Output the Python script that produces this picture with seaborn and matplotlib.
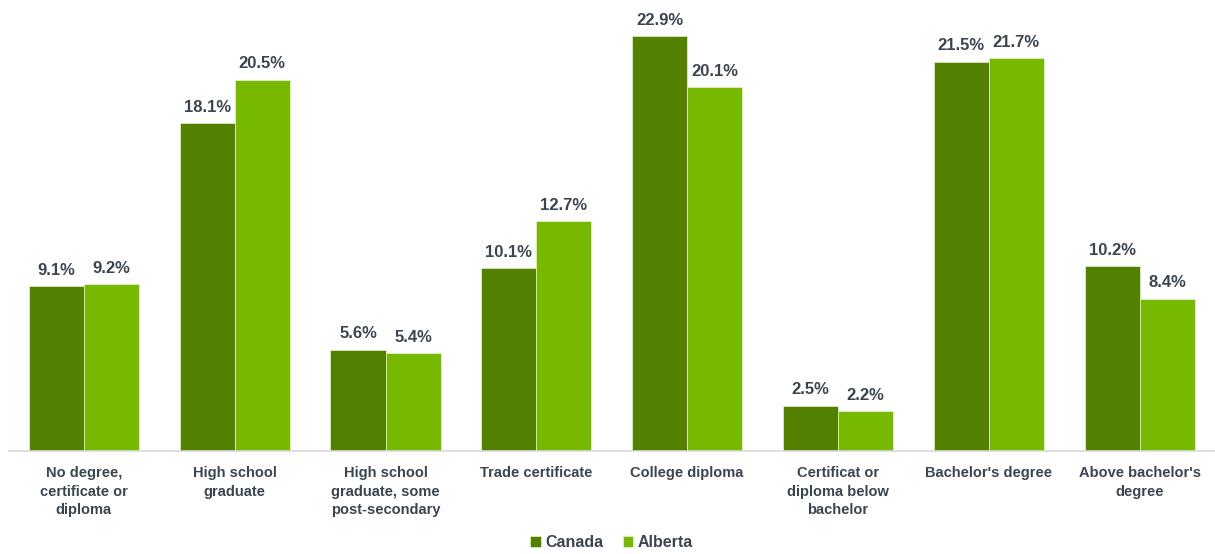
import matplotlib
matplotlib.use("Agg")
import matplotlib.pyplot as plt
import seaborn as sns
import pandas as pd

categories = [
    "No degree,\ncertificate or\ndiploma",
    "High school\ngraduate",
    "High school\ngraduate, some\npost-secondary",
    "Trade certificate",
    "College diploma",
    "Certificat or\ndiploma below\nbachelor",
    "Bachelor's degree",
    "Above bachelor's\ndegree",
]
canada = [9.1, 18.1, 5.6, 10.1, 22.9, 2.5, 21.5, 10.2]
alberta = [9.2, 20.5, 5.4, 12.7, 20.1, 2.2, 21.7, 8.4]
series = ["Canada", "Alberta"]
colors = ["#548000", "#77B900"]
text_color = "#3B4550"

df = pd.DataFrame({
    "category": categories * 2,
    "value": canada + alberta,
    "region": ["Canada"] * len(categories) + ["Alberta"] * len(categories),
})

sns.set_theme(style="white")
plt.rcParams["font.family"] = ["Liberation Sans", "DejaVu Sans"]
plt.rcParams["font.weight"] = "bold"

fig = plt.figure(figsize=(12.15, 5.54), dpi=100)
ax = fig.add_axes([0.007, 0.186, 0.993, 0.814])

sns.barplot(data=df, x="category", y="value", hue="region", order=categories,
            hue_order=series, palette=colors, width=0.73, saturation=1,
            edgecolor="#E8F2D8", linewidth=0.5, ax=ax)

for cont in ax.containers:
    ax.bar_label(cont, fmt="%.1f%%", padding=6, fontsize=12,
                 fontweight="bold", color=text_color)

ax.set_ylim(0, 24.9)
ax.set_xlim(-0.5, len(categories) - 0.5)
ax.set_xlabel("")
ax.set_ylabel("")
ax.set_yticks([])
for s in ["top", "right", "left"]:
    ax.spines[s].set_visible(False)
ax.spines["bottom"].set_color("#D9D9D9")
ax.spines["bottom"].set_linewidth(1.2)
ax.tick_params(axis="x", length=0, pad=11, labelsize=10.5, labelcolor=text_color)
for lbl in ax.get_xticklabels():
    lbl.set_fontweight("bold")
    lbl.set_linespacing(1.4)

leg = ax.legend(loc="lower center", bbox_to_anchor=(0.5, -0.234), ncol=2,
                frameon=False, fontsize=11.5, handlelength=0.65, handleheight=0.65,
                handletextpad=0.3, columnspacing=1.2, borderaxespad=0)
for t in leg.get_texts():
    t.set_color(text_color)
    t.set_fontweight("bold")

fig.savefig("out.png", dpi=100, facecolor="white")
